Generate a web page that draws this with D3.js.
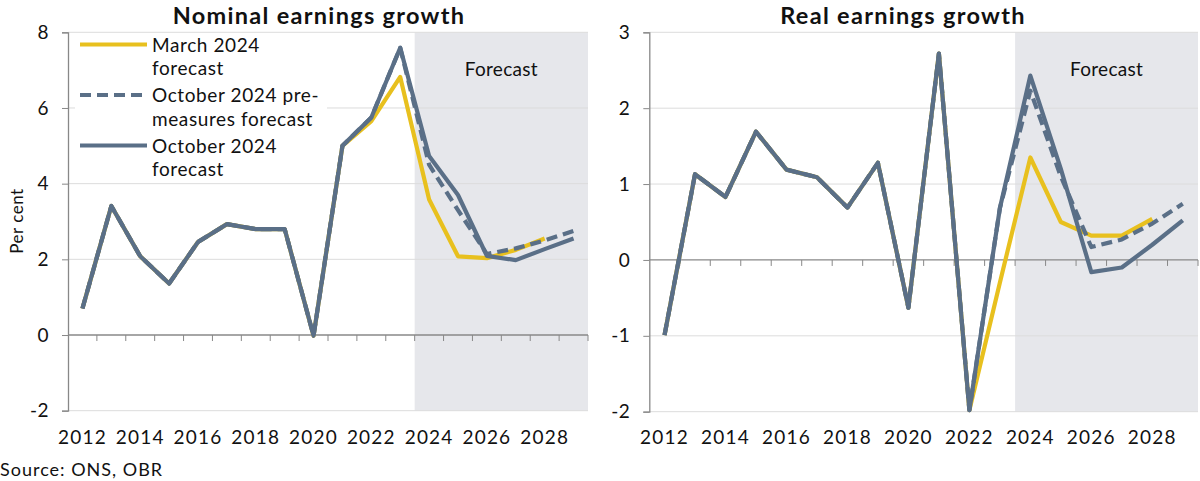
<!DOCTYPE html>
<html>
<head>
<meta charset="utf-8">
<script src="https://cdn.jsdelivr.net/npm/d3@7"></script>
<style>
  body { margin: 0; background: #fff; }
  svg text { font-family: Lato, "Noto Sans", sans-serif; fill: #111; }
</style>
</head>
<body>
<svg id="chart" width="1200" height="481"></svg>
<script>
// Years on the x axis, labels every other year
const years = [2012, 2013, 2014, 2015, 2016, 2017, 2018, 2019, 2020, 2021, 2022, 2023, 2024, 2025, 2026, 2027, 2028, 2029];
const tickYears = [2012, 2014, 2016, 2018, 2020, 2022, 2024, 2026, 2028];
const forecastStart = 2024;

// Nominal earnings growth, per cent
const nomMarch24  = [0.70, 3.41, 2.08, 1.36, 2.46, 2.93, 2.80, 2.80, -0.02, 5.00, 5.65, 6.82, 3.58, 2.08, 2.03, 2.25, 2.55, null];
const nomOctPre   = [0.70, 3.41, 2.08, 1.36, 2.46, 2.93, 2.80, 2.80, -0.02, 5.00, 5.75, 7.59, 4.50, 3.30, 2.14, 2.29, 2.50, 2.75];
const nomOct24    = [0.70, 3.41, 2.08, 1.36, 2.46, 2.93, 2.80, 2.80, -0.02, 5.00, 5.75, 7.59, 4.73, 3.70, 2.09, 1.98, 2.27, 2.55];
const nomTicks = [-2, 0, 2, 4, 6, 8];

// Real earnings growth, per cent
const realMarch24 = [-0.99, 1.13, 0.83, 1.69, 1.19, 1.09, 0.69, 1.28, -0.63, 2.72, -1.98, -0.30, 1.35, 0.50, 0.32, 0.32, 0.54, null];
const realOctPre  = [-0.99, 1.13, 0.83, 1.69, 1.19, 1.09, 0.69, 1.28, -0.63, 2.72, -1.98, 0.68, 2.23, 1.10, 0.17, 0.27, 0.48, 0.74];
const realOct24   = [-0.99, 1.13, 0.83, 1.69, 1.19, 1.09, 0.69, 1.28, -0.63, 2.72, -1.98, 0.68, 2.43, 1.20, -0.16, -0.10, 0.20, 0.52];
const realTicks = [-2, -1, 0, 1, 2, 3];

const seriesNames = ["March 2024 forecast", "October 2024 pre-measures forecast", "October 2024 forecast"];
const legendLines = [["March 2024", "forecast"], ["October 2024 pre-", "measures forecast"], ["October 2024", "forecast"]];

const YELLOW = "#E8C01E";
const BLUE = "#5A6F87";
const SHADE = "#E6E7EB";
const GRID = "#DCDCDC";
const AXIS = "#888";

const svg = d3.select("#chart");

function drawPanel(opt) {
  const g = svg.append("g");
  const x = d3.scaleBand().domain(years).range([opt.left, opt.right]);
  const y = d3.scaleLinear().domain(opt.domain).range([opt.bottom, opt.top]);

  // forecast shading
  g.append("rect")
    .attr("x", x(forecastStart))
    .attr("y", opt.top)
    .attr("width", opt.right - x(forecastStart))
    .attr("height", opt.bottom - opt.top)
    .attr("fill", SHADE);

  // gridlines
  g.selectAll("line.grid")
    .data(opt.ticks.filter(d => d !== 0))
    .enter().append("line")
    .attr("class", "grid")
    .attr("x1", opt.left).attr("x2", opt.right)
    .attr("y1", d => y(d)).attr("y2", d => y(d))
    .attr("stroke", GRID).attr("stroke-width", 1);

  g.append("text")
    .attr("x", (x(forecastStart) + opt.right) / 2)
    .attr("y", 76)
    .attr("text-anchor", "middle")
    .attr("font-size", 19)
    .attr("letter-spacing", 0.3)
    .text("Forecast");

  // y axis (plain hyphen for negatives, like the original)
  const yAxis = g.append("g")
    .attr("transform", `translate(${opt.left},0)`)
    .call(d3.axisLeft(y).tickValues(opt.ticks).tickSize(6).tickPadding(13).tickFormat(d => String(d)));
  yAxis.select(".domain").attr("stroke", AXIS).attr("stroke-width", 1.3);
  yAxis.selectAll(".tick line").attr("stroke", AXIS);
  yAxis.selectAll(".tick text")
    .attr("font-size", 19).attr("font-family", "Lato, sans-serif")
    .attr("letter-spacing", 0.5).attr("fill", "#111");

  // zero line with ticks at category boundaries
  g.append("line")
    .attr("x1", opt.left).attr("x2", opt.right)
    .attr("y1", y(0)).attr("y2", y(0))
    .attr("stroke", AXIS).attr("stroke-width", 1.3);
  g.selectAll("line.xtick")
    .data(years.slice(1).concat(["end"]))
    .enter().append("line")
    .attr("class", "xtick")
    .attr("x1", d => d === "end" ? opt.right : x(d))
    .attr("x2", d => d === "end" ? opt.right : x(d))
    .attr("y1", y(0)).attr("y2", y(0) + 6)
    .attr("stroke", AXIS);

  // x labels
  g.selectAll("text.xlab")
    .data(tickYears)
    .enter().append("text")
    .attr("class", "xlab")
    .attr("x", d => x(d) + x.bandwidth() / 2)
    .attr("y", 444)
    .attr("text-anchor", "middle")
    .attr("font-size", 19)
    .attr("letter-spacing", 1.2)
    .text(d => d);

  // lines
  const line = d3.line()
    .defined(d => d.v !== null)
    .x(d => x(d.year) + x.bandwidth() / 2)
    .y(d => y(d.v));
  const series = [
    { vals: opt.march, color: YELLOW, dash: null },
    { vals: opt.pre, color: BLUE, dash: "11,6" },
    { vals: opt.oct, color: BLUE, dash: null }
  ];
  series.forEach(s => {
    g.append("path")
      .datum(years.map((yr, i) => ({ year: yr, v: s.vals[i] })))
      .attr("d", line)
      .attr("fill", "none")
      .attr("stroke", s.color)
      .attr("stroke-width", 4.2)
      .attr("stroke-linejoin", "round")
      .attr("stroke-dasharray", s.dash);
  });

  g.append("text")
    .attr("x", opt.titleX)
    .attr("y", 24)
    .attr("text-anchor", "middle")
    .attr("font-size", 23.5)
    .attr("font-weight", "bold")
    .attr("letter-spacing", 1.3)
    .text(opt.title);

  return g;
}

const left = drawPanel({
  title: "Nominal earnings growth", titleX: 319,
  left: 68, right: 588, top: 32.3, bottom: 410.7,
  domain: [-2, 8], ticks: nomTicks,
  march: nomMarch24, pre: nomOctPre, oct: nomOct24
});

drawPanel({
  title: "Real earnings growth", titleX: 903,
  left: 649.3, right: 1198, top: 32.3, bottom: 411.7,
  domain: [-2, 3], ticks: realTicks,
  march: realMarch24, pre: realOctPre, oct: realOct24
});

// legend (inside left panel)
const legend = left.append("g");
legend.append("rect")
  .attr("x", 75).attr("y", 34).attr("width", 252).attr("height", 146)
  .attr("fill", "#fff");
const legendStyle = [
  { color: YELLOW, dash: null },
  { color: BLUE, dash: "11,6" },
  { color: BLUE, dash: null }
];
legendLines.forEach((lines, i) => {
  const ly = 44.5 + i * 50.5;
  legend.append("line")
    .attr("x1", 80).attr("x2", 147)
    .attr("y1", ly).attr("y2", ly)
    .attr("stroke", legendStyle[i].color)
    .attr("stroke-width", 4.2)
    .attr("stroke-dasharray", legendStyle[i].dash);
  const t = legend.append("text")
    .attr("x", 152).attr("y", ly + 7)
    .attr("font-size", 19)
    .attr("letter-spacing", 0.6);
  t.append("title").text(seriesNames[i]);
  lines.forEach((s, j) => {
    t.append("tspan").attr("x", 152).attr("dy", j === 0 ? 0 : 23.5).text(s);
  });
});

// y axis title
svg.append("text")
  .attr("transform", "translate(23,221) rotate(-90)")
  .attr("text-anchor", "middle")
  .attr("font-size", 17)
  .attr("letter-spacing", 0.5)
  .text("Per cent");

svg.append("text")
  .attr("x", 0).attr("y", 476)
  .attr("font-size", 18)
  .attr("letter-spacing", 1)
  .text("Source: ONS, OBR");
</script>
</body>
</html>
